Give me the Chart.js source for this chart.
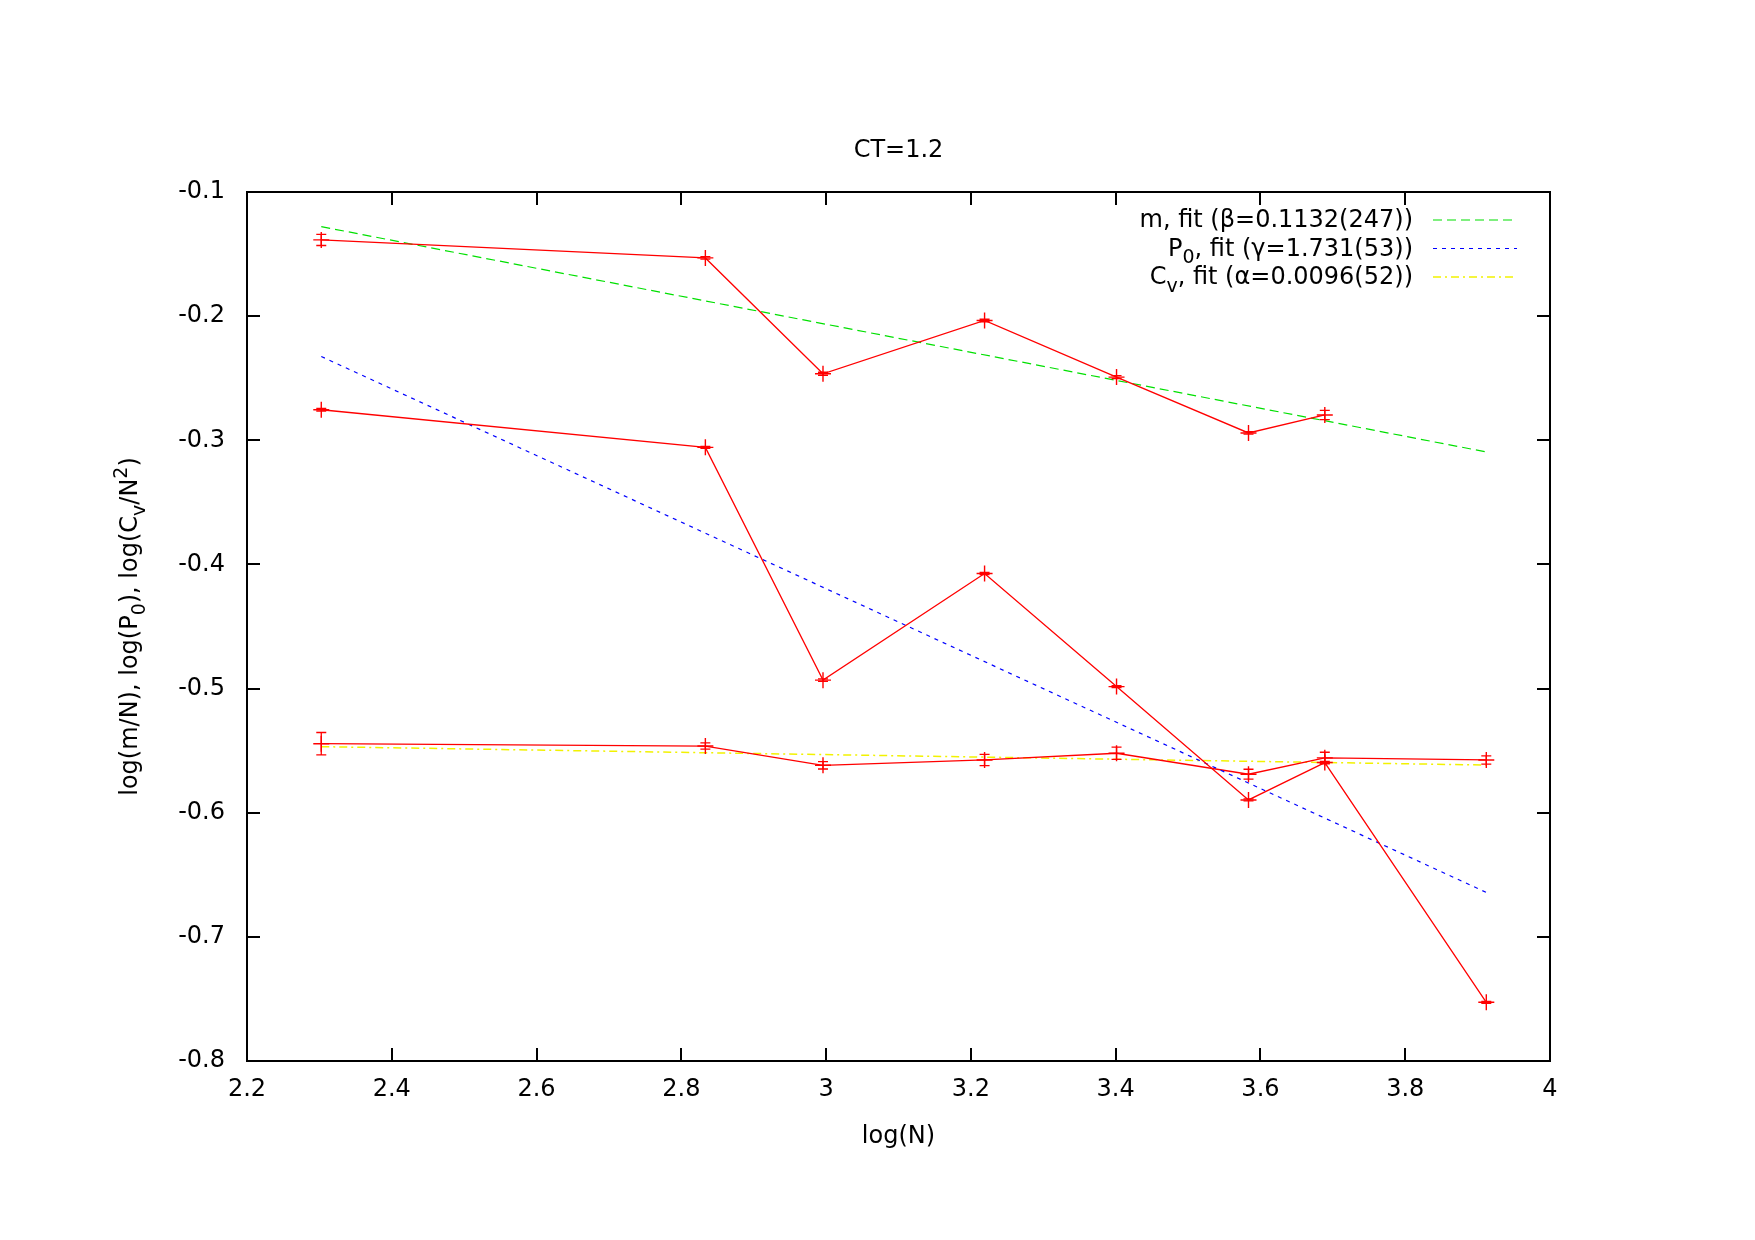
<!DOCTYPE html>
<html>
<head>
<meta charset="utf-8">
<script src="https://cdn.jsdelivr.net/npm/chart.js@4.4.1/dist/chart.umd.min.js"></script>
<style>
  html, body { margin: 0; padding: 0; background: #fff; }
  #wrap { width: 1755px; height: 1240px; }
</style>
</head>
<body>
<div id="wrap"><canvas id="c" width="1755" height="1240"></canvas></div>
<script>
// log(N) for N = 10, 17, 20, 25, 30, 36, 40, 50
const logN = [2.3026, 2.8332, 2.9957, 3.2189, 3.4012, 3.5835, 3.6889, 3.9120]

const mVals = [-0.1386, -0.1531, -0.2464, -0.2035, -0.2491, -0.2941, -0.2796]
const mErr = [0.0045, 0.001, 0.0012, 0.001, 0.0012, 0.001, 0.0037]

const p0Vals = [-0.2754, -0.3057, -0.4932, -0.4073, -0.4984, -0.5897, -0.5596, -0.7527]
const p0Err = [0.001, 0.0008, 0.001, 0.0008, 0.0008, 0.0008, 0.001, 0.0008]

const cvVals = [-0.5444, -0.5463, -0.5618, -0.5575, -0.5521, -0.5690, -0.5558, -0.5575]
const cvErr = [0.009, 0.0025, 0.003, 0.0045, 0.005, 0.004, 0.0045, 0.0033]

// fit lines, end points only
const fitX = [2.3026, 3.9120]
const mFit = [-0.1279, -0.3094]
const p0Fit = [-0.2325, -0.6642]
const cvFit = [-0.5468, -0.5616]

const xTicks = [2.2, 2.4, 2.6, 2.8, 3, 3.2, 3.4, 3.6, 3.8, 4]
const yTicks = [-0.1, -0.2, -0.3, -0.4, -0.5, -0.6, -0.7, -0.8]

const FONT = '"DejaVu Sans", sans-serif'
const YELLOW = '#f2f200'

function pts(xs, ys) {
    return ys.map((y, i) => ({ x: xs[i], y: y }))
}

function dataSet(vals, errs) {
    return {
        data: pts(logN, vals),
        errs: errs,
        borderColor: '#ff0000',
        backgroundColor: '#ff0000',
        borderWidth: 1.3,
        pointStyle: 'cross',
        pointRadius: 8,
        pointBorderWidth: 1.4,
        showLine: true,
        tension: 0
    }
}

function fitSet(ys, color, dash, w) {
    return {
        data: pts(fitX, ys),
        borderColor: color,
        borderWidth: w || 1.2,
        borderDash: dash,
        pointRadius: 0,
        showLine: true,
        tension: 0
    }
}

const legendRows = [
    { parts: [['m, fit (β=0.1132(247))', 0]], color: '#00e000', dash: [9, 5] },
    { parts: [['P', 0], ['0', 1], [', fit (γ=1.731(53))', 0]], color: '#0000ff', dash: [4, 5] },
    { parts: [['C', 0], ['v', 1], [', fit (α=0.0096(52))', 0]], color: YELLOW, dash: [8, 4, 2, 4] }
]
const yTitle = [['log(m/N), log(P', 0], ['0', 1], ['), log(C', 0], ['v', 1], ['/N', 0], ['2', 2], [')', 0]]

// parts: [text, 0 normal / 1 sub / 2 sup]
function richWidth(ctx, parts) {
    let w = 0
    parts.forEach(p => {
        ctx.font = (p[1] ? '19px ' : '24px ') + FONT
        w += ctx.measureText(p[0]).width
    })
    return w
}

function drawRich(ctx, parts, x, y, align) {
    let w = richWidth(ctx, parts)
    let cx = align == 'right' ? x - w : (align == 'center' ? x - w / 2 : x)
    ctx.textAlign = 'left'
    ctx.textBaseline = 'middle'
    parts.forEach(p => {
        ctx.font = (p[1] ? '19px ' : '24px ') + FONT
        let dy = p[1] == 1 ? 9 : (p[1] == 2 ? -9 : 0)
        ctx.fillText(p[0], cx, y + dy)
        cx += ctx.measureText(p[0]).width
    })
}

const errorBars = {
    id: 'errorBars',
    afterDatasetsDraw(chart) {
        const ctx = chart.ctx
        const xs = chart.scales.x, ys = chart.scales.y
        ctx.save()
        chart.data.datasets.forEach(ds => {
            if (!ds.errs) return
            ctx.strokeStyle = ds.borderColor
            ctx.lineWidth = 1.3
            ds.data.forEach((p, i) => {
                let px = xs.getPixelForValue(p.x)
                let top = ys.getPixelForValue(p.y + ds.errs[i])
                let bot = ys.getPixelForValue(p.y - ds.errs[i])
                ctx.beginPath()
                ctx.moveTo(px, top); ctx.lineTo(px, bot)
                ctx.moveTo(px - 5, top); ctx.lineTo(px + 5, top)
                ctx.moveTo(px - 5, bot); ctx.lineTo(px + 5, bot)
                ctx.stroke()
            })
        })
        ctx.restore()
    }
}

const frame = {
    id: 'frame',
    afterDraw(chart) {
        const ctx = chart.ctx
        const a = chart.chartArea
        const xs = chart.scales.x, ys = chart.scales.y
        ctx.save()
        ctx.strokeStyle = '#000'
        ctx.lineWidth = 2
        ctx.beginPath()
        xs.ticks.forEach(t => {
            let px = Math.round(xs.getPixelForValue(t.value))
            ctx.moveTo(px, a.bottom); ctx.lineTo(px, a.bottom - 13)
            ctx.moveTo(px, a.top); ctx.lineTo(px, a.top + 13)
        })
        ys.ticks.forEach(t => {
            let py = Math.round(ys.getPixelForValue(t.value))
            ctx.moveTo(a.left, py); ctx.lineTo(a.left + 13, py)
            ctx.moveTo(a.right, py); ctx.lineTo(a.right - 13, py)
        })
        ctx.stroke()
        ctx.strokeRect(a.left, a.top, a.right - a.left, a.bottom - a.top)

        ctx.fillStyle = '#000'
        let mid = (a.left + a.right) / 2
        drawRich(ctx, [['CT=1.2', 0]], mid, 151, 'center')
        drawRich(ctx, [['log(N)', 0]], mid, 1137, 'center')

        ctx.save()
        ctx.translate(131, (a.top + a.bottom) / 2)
        ctx.rotate(-Math.PI / 2)
        drawRich(ctx, yTitle, 0, 0, 'center')
        ctx.restore()

        legendRows.forEach((r, i) => {
            let y = 220 + i * 28.5
            ctx.fillStyle = '#000'
            drawRich(ctx, r.parts, 1413, y + 1, 'right')
            ctx.strokeStyle = r.color
            ctx.lineWidth = i == 2 ? 1.5 : 1.2
            ctx.setLineDash(r.dash)
            ctx.beginPath()
            ctx.moveTo(1433, y); ctx.lineTo(1517, y)
            ctx.stroke()
            ctx.setLineDash([])
        })
        ctx.restore()
    }
}

new Chart(document.getElementById('c'), {
    type: 'scatter',
    data: {
        datasets: [
            dataSet(mVals, mErr),
            fitSet(mFit, '#00e000', [9, 5]),
            dataSet(p0Vals, p0Err),
            fitSet(p0Fit, '#0000ff', [4, 5]),
            dataSet(cvVals, cvErr),
            fitSet(cvFit, YELLOW, [8, 4, 2, 4], 1.5)
        ]
    },
    options: {
        responsive: false,
        animation: false,
        devicePixelRatio: 1,
        layout: { padding: { top: 192, right: 205, left: 0, bottom: 0 } },
        plugins: { legend: { display: false }, tooltip: { enabled: false }, title: { display: false } },
        scales: {
            x: {
                type: 'linear', min: 2.2, max: 4,
                afterFit: s => { s.height = 179 },
                afterBuildTicks: s => { s.ticks = xTicks.map(v => ({ value: v })) },
                grid: { display: false, drawTicks: false },
                border: { display: false },
                ticks: {
                    color: '#000', padding: 14, maxRotation: 0,
                    font: { family: FONT, size: 24 },
                    callback: v => String(parseFloat(v.toFixed(1)))
                }
            },
            y: {
                type: 'linear', min: -0.8, max: -0.1,
                afterFit: s => { s.width = 247 },
                afterBuildTicks: s => { s.ticks = yTicks.map(v => ({ value: v })) },
                grid: { display: false, drawTicks: false },
                border: { display: false },
                ticks: {
                    color: '#000', padding: 22,
                    font: { family: FONT, size: 24 },
                    callback: v => String(parseFloat(v.toFixed(1)))
                }
            }
        }
    },
    plugins: [errorBars, frame]
})
</script>
</body>
</html>
